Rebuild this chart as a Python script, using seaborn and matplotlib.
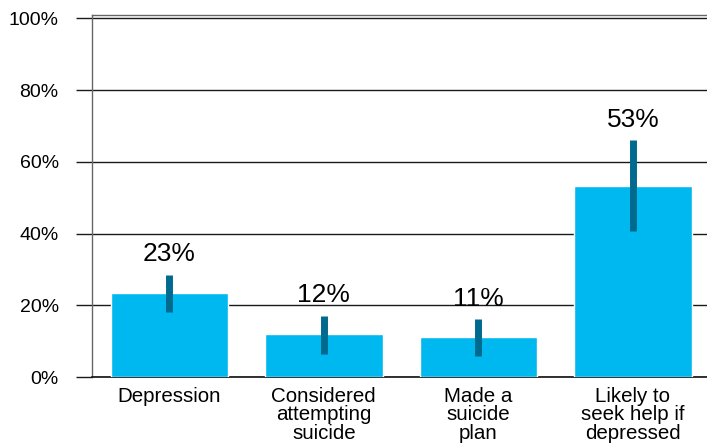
import numpy as np
import pandas as pd
import seaborn as sns
import matplotlib.pyplot as plt

categories = ["Depression", "Considered\nattempting\nsuicide", "Made a\nsuicide\nplan",
              "Likely to\nseek help if\ndepressed"]
values = [23.5, 12.0, 11.2, 53.3]
labels = ["23%", "12%", "11%", "53%"]
err_low = [18.2, 6.4, 5.9, 40.6]
err_high = [28.5, 17.1, 16.2, 66.0]
y_ticks = [0, 20, 40, 60, 80, 100]

sns.set_style("white")
plt.rcParams['font.family'] = ['Liberation Sans', 'DejaVu Sans']
plt.rcParams['text.color'] = 'black'
plt.rcParams['xtick.color'] = 'black'
plt.rcParams['ytick.color'] = 'black'

df = pd.DataFrame({"category": categories, "value": values})

fig = plt.figure(figsize=(7.07, 4.44), dpi=100)
ax = fig.add_axes([92 / 707, 1 - 377 / 444, 615 / 707, (377 - 14.7) / 444])

sns.barplot(data=df, x="category", y="value", color="#00B8F0", saturation=1,
            width=0.76, errorbar=None, ax=ax, zorder=3)

x = np.arange(len(categories))
mid = np.array(values)
ax.errorbar(x, mid, yerr=[mid - np.array(err_low), np.array(err_high) - mid],
            fmt="none", ecolor="#006A8E", elinewidth=5, capsize=0, zorder=4)

for xi, hi, lab in zip(x, err_high, labels):
    ax.annotate(lab, (xi, hi), xytext=(0, 6), textcoords="offset points",
                ha="center", va="bottom", fontsize=19, color="black")

ax.set_xlim(-0.5, 3.48)
ax.set_ylim(0, 101)
ax.set_yticks(y_ticks)
ax.set_yticklabels([f"{t}%" for t in y_ticks], fontsize=14)
ax.yaxis.grid(True, color="#1a1a1a", linewidth=1, zorder=0)
ax.set_axisbelow(True)
ax.tick_params(axis="y", length=11.5, width=1, color="#1a1a1a", pad=12.5, left=True)
ax.tick_params(axis="x", length=0, pad=7, labelsize=14.8)
ax.set_xlabel("")
ax.set_ylabel("")
for side in ["left", "top", "right"]:
    ax.spines[side].set_color("#666666")
    ax.spines[side].set_linewidth(1)
ax.spines["right"].set_visible(False)
ax.spines["bottom"].set_color("#111111")
ax.spines["bottom"].set_linewidth(1.2)
for t in ax.get_xticklabels():
    t.set_linespacing(0.98)

fig.savefig("out.png", dpi=100)
